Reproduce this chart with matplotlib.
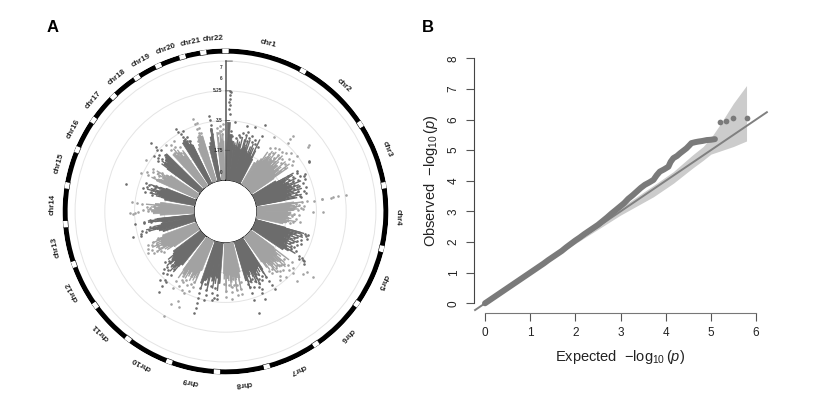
import matplotlib
matplotlib.use('Agg')
import matplotlib.pyplot as plt
import numpy as np

plt.rcParams['font.family'] = ['Liberation Sans', 'DejaVu Sans']
plt.rcParams['mathtext.fontset'] = 'custom'
plt.rcParams['mathtext.rm'] = 'Liberation Sans'
plt.rcParams['mathtext.it'] = 'Liberation Sans:italic'

# chromosome names and lengths (Mb)
chr_names = ['chr%d' % i for i in range(1, 23)]
chr_len = [249, 243, 198, 191, 181, 171, 159, 146, 141, 135, 135, 133,
           115, 107, 102, 90, 81, 78, 59, 63, 48, 51]

# dense part of each chromosome, top of the filled block along the chromosome
solid_tops = [
    [3.4, 2.7, 2.3, 2.1, 2.0, 2.2, 1.9, 2.0, 2.1, 1.9, 1.8, 1.9, 1.7, 1.6],
    [1.5, 1.7, 1.9, 1.8, 2.1, 2.0, 2.2, 1.9, 2.0, 2.2, 1.9, 2.1, 1.8, 1.6],
    [1.6, 1.8, 2.1, 1.9, 2.2, 2.0, 2.3, 2.0, 2.2, 1.9, 2.1, 1.8, 1.7],
    [2.2, 2.0, 1.9, 2.1, 1.8, 2.0, 1.9, 1.8, 1.9, 1.7, 1.8, 1.6],
    [1.8, 2.0, 2.3, 2.0, 2.2, 1.9, 2.1, 2.2, 2.0, 2.3, 2.5, 2.2],
    [1.7, 1.9, 2.1, 2.0, 1.9, 2.2, 2.0, 2.1, 1.9, 2.0, 1.8],
    [2.2, 1.9, 2.0, 2.1, 2.2, 2.0, 1.9, 2.1, 2.0, 2.4],
    [1.8, 2.0, 2.1, 1.9, 2.0, 2.2, 1.9, 2.1, 1.9, 1.8],
    [2.4, 2.1, 2.0, 2.3, 2.1, 2.0, 2.2, 2.4, 2.6],
    [1.9, 2.1, 2.3, 2.5, 2.2, 2.4, 2.2, 2.6, 2.4],
    [2.2, 2.4, 2.6, 2.4, 2.3, 2.4, 2.2, 2.1, 2.0],
    [1.8, 2.0, 2.1, 2.3, 2.4, 2.2, 2.3, 2.4, 2.1],
    [2.0, 2.2, 2.3, 2.1, 2.0, 1.9, 2.0, 2.2],
    [2.0, 2.4, 2.5, 2.2, 2.1, 2.0, 2.3, 2.0],
    [1.8, 2.0, 2.2, 2.3, 2.1, 2.0, 1.9],
    [2.6, 2.4, 2.2, 2.3, 2.1, 2.2, 2.0],
    [2.4, 2.7, 2.6, 2.8, 2.9, 3.0],
    [2.7, 2.5, 2.3, 2.5, 2.2, 2.4],
    [2.9, 3.0, 2.8, 2.6, 2.5],
    [2.2, 2.4, 2.7, 2.9, 2.8],
    [2.1, 2.3, 2.6, 3.1],
    [2.0, 2.2, 2.4, 2.3],
]

# single dots: chromosome index, position along it (0-1), -log10(p)
hit_chr = (
    [1] * 28 + [2] * 28 + [3] * 25 + [4] * 26 + [5] * 23 + [6] * 24 + [7] * 22
    + [8] * 14 + [9] * 17 + [10] * 18 + [11] * 15 + [12] * 14 + [13] * 13
    + [14] * 13 + [15] * 11 + [16] * 10 + [17] * 11 + [18] * 9 + [19] * 9
    + [20] * 9 + [21] * 6 + [22] * 7
)
hit_pos = [
    .03, .06, .03, .04, .03, .04, .03, .05, .19, .48, .69, .88, .92, .44, .32, .67, .1, .15, .25, .38, .52, .58, .62, .75, .8, .85, .95, .55,
    .11, .2, .25, .3, .35, .4, .28, .45, .5, .45, .45, .47, .52, .58, .6, .65, .7, .72, .78, .82, .85, .9, .93, .96, .83, .85, .55, .38,
    .02, .04, .1, .15, .2, .25, .3, .35, .4, .3, .34, .5, .55, .6, .65, .7, .75, .8, .85, .9, .95, .98, .1, .45, .62,
    .02, .02, .03, .03, .04, .04, .05, .05, .06, .42, .42, .1, .15, .2, .25, .3, .35, .5, .55, .6, .7, .8, .85, .92, .2, .3,
    .05, .05, .1, .15, .2, .25, .3, .35, .4, .45, .5, .55, .6, .65, .7, .75, .8, .85, .88, .9, .93, .95, .98,
    .02, .01, .42, .13, .2, .25, .3, .35, .4, .45, .5, .55, .6, .65, .7, .75, .8, .85, .9, .95, .15, .05, .32, .58,
    .02, .04, .06, .08, .5, .52, .55, .48, .45, .9, .9, .88, .2, .3, .35, .4, .6, .7, .75, .8, .875, .95,
    .15, .15, .35, .35, .6, .6, .85, .85, .3, .45, .1, .55, .7, .95,
    .85, .85, .87, .88, .9, .92, .1, .1, .2, .3, .35, .6, .62, .65, .45, .25, .75,
    .6, .6, .28, .45, .1, .2, .25, .35, .4, .5, .55, .65, .7, .8, .9, .95, .15, .75,
    .05, .1, .15, .2, .3, .35, .4, .5, .55, .6, .7, .8, .25, .45, .15,
    .3, .45, .35, .5, .6, .7, .2, .4, .55, .65, .8, .85, .1, .9,
    .2, .25, .15, .3, .35, .4, .5, .45, .85, .9, .95, .82, .8,
    .2, .22, .25, .15, .4, .35, .5, .6, .7, .55, .8, .75, .78,
    .45, .2, .3, .4, .5, .55, .6, .7, .8, .9, .85,
    .05, .1, .2, .3, .4, .5, .6, .7, .8, .95,
    .1, .2, .3, .4, .5, .6, .75, .8, .9, .7, .85,
    .1, .2, .3, .4, .5, .6, .7, .85, .95,
    .2, .25, .35, .45, .5, .6, .7, .8, .9,
    .6, .65, .7, .8, .85, .9, .75, .5, .3,
    .9, .9, .88, .85, .8, .7,
    .1, .2, .5, .6, .7, .9, .85,
]
hit_val = [
    5.25, 5.2, 5.0, 4.8, 4.6, 4.4, 4.2, 3.9, 3.44, 3.36, 3.4, 3.75, 3.1, 2.9, 2.7, 2.87, 2.9, 2.6, 2.5, 2.6, 2.8, 2.5, 2.7, 2.5, 2.7, 2.5, 2.4, 3.0,
    3.4, 2.7, 2.4, 2.9, 2.6, 3.0, 2.2, 2.4, 2.7, 4.1, 3.86, 3.6, 3.0, 2.6, 3.1, 2.7, 3.3, 2.5, 3.0, 2.6, 3.5, 3.1, 2.5, 2.9, 4.4, 4.3, 2.2, 2.2,
    3.9, 3.85, 2.4, 2.9, 2.6, 2.3, 3.0, 2.5, 2.8, 3.3, 3.25, 2.5, 3.0, 2.7, 2.4, 3.1, 2.6, 2.9, 2.4, 3.0, 2.6, 2.7, 3.0, 3.2, 2.6,
    5.3, 4.85, 4.5, 4.4, 3.9, 3.85, 3.4, 3.0, 2.7, 3.3, 3.9, 2.3, 2.5, 2.2, 2.6, 2.1, 2.4, 2.2, 2.5, 2.1, 2.3, 2.6, 2.2, 2.0, 2.8, 2.7,
    3.2, 3.0, 3.1, 2.8, 3.2, 2.6, 2.9, 2.5, 2.7, 3.0, 2.5, 2.8, 2.4, 2.7, 2.5, 2.9, 2.6, 3.2, 3.4, 3.5, 3.6, 3.3, 3.7,
    4.55, 4.1, 4.0, 4.0, 3.3, 3.0, 2.8, 3.2, 2.7, 2.6, 3.0, 2.5, 2.9, 2.6, 2.8, 3.1, 2.5, 3.3, 2.7, 2.5, 2.6, 3.1, 3.5, 3.4,
    3.6, 3.3, 3.0, 2.7, 3.8, 3.4, 3.0, 2.8, 3.2, 3.6, 3.2, 2.8, 2.5, 2.7, 2.3, 2.6, 2.6, 2.4, 2.9, 2.5, 4.45, 2.6,
    3.1, 2.8, 3.1, 2.8, 3.3, 2.9, 3.2, 2.8, 2.5, 2.5, 2.4, 2.6, 2.5, 2.4,
    4.4, 4.1, 3.8, 3.5, 3.2, 2.9, 3.1, 3.3, 3.3, 3.4, 3.0, 3.2, 3.5, 2.9, 2.6, 2.7, 2.6,
    5.25, 4.45, 4.4, 4.1, 3.0, 3.3, 2.9, 3.5, 3.0, 3.4, 2.8, 3.0, 3.3, 2.7, 3.6, 3.2, 2.7, 2.9,
    4.3, 3.6, 3.9, 3.5, 3.2, 3.7, 3.0, 3.3, 2.9, 3.1, 2.6, 2.8, 2.7, 2.6, 3.1,
    3.0, 3.3, 2.8, 3.0, 3.2, 2.9, 2.6, 2.6, 2.6, 2.6, 3.1, 2.8, 2.5, 2.4,
    3.8, 3.3, 3.3, 3.0, 2.8, 3.2, 2.7, 2.5, 3.5, 3.0, 2.6, 3.0, 2.6,
    3.75, 3.5, 3.3, 3.6, 3.0, 2.7, 2.6, 2.8, 2.4, 2.3, 3.65, 3.1, 3.4,
    4.2, 2.6, 3.0, 2.7, 3.2, 2.6, 3.0, 2.5, 2.9, 2.5, 3.1,
    3.6, 3.2, 2.8, 3.3, 2.6, 3.0, 2.7, 3.1, 2.5, 3.7,
    3.1, 3.5, 3.2, 3.0, 3.3, 2.8, 4.1, 3.7, 3.4, 3.6, 3.0,
    3.4, 3.0, 2.7, 3.2, 2.6, 3.0, 2.5, 3.3, 2.8,
    3.8, 3.6, 3.4, 3.2, 3.0, 2.9, 3.5, 3.1, 2.8,
    3.95, 3.6, 3.3, 3.6, 3.3, 3.0, 3.0, 2.8, 2.6,
    3.85, 3.6, 3.3, 3.0, 2.8, 2.6,
    3.1, 2.8, 3.2, 2.9, 2.7, 3.3, 3.0,
]

circle_ticks = [1.75, 3.5, 5.25, 7]
axis_labels = ['0', '1.75', '3.5', '5.25', '6', '7']
axis_label_at = [0.45, 1.75, 3.5, 5.25, 6.0, 6.6]

# QQ plot
qq_exp = [0, .1, .2, .3, .4, .5, .6, .7, .8, .9, 1.0, 1.1, 1.2, 1.3, 1.4, 1.5, 1.6, 1.7,
          1.8, 1.9, 2.0, 2.1, 2.2, 2.3, 2.4, 2.5, 2.6, 2.7, 2.8, 2.9, 2.99, 3.08, 3.17,
          3.27, 3.36, 3.45, 3.54, 3.64, 3.73, 3.8, 3.87, 3.96, 4.06, 4.11, 4.17, 4.25,
          4.32, 4.39, 4.46, 4.52, 4.57, 4.65, 4.72, 4.81, 4.91, 5.0, 5.09, 5.20, 5.33,
          5.50, 5.79]
qq_obs = [0, .1, .2, .3, .4, .5, .6, .7, .8, .9, 1.0, 1.1, 1.2, 1.3, 1.41, 1.51, 1.61, 1.71,
          1.83, 1.94, 2.05, 2.15, 2.26, 2.36, 2.46, 2.56, 2.68, 2.8, 2.93, 3.05, 3.16, 3.27,
          3.41, 3.53, 3.65, 3.77, 3.87, 3.95, 4.03, 4.18, 4.30, 4.37, 4.46, 4.62, 4.74, 4.81,
          4.90, 4.98, 5.06, 5.15, 5.23, 5.26, 5.28, 5.30, 5.33, 5.34, 5.36, 5.93, 5.96,
          6.05, 6.05]
band_x = [0, 1, 2, 3, 3.73, 4.17, 4.6, 4.83, 5.0, 5.2, 5.5, 5.79]
band_lo = [0, .98, 1.95, 2.88, 3.48, 3.92, 4.42, 4.67, 4.87, 4.97, 5.12, 5.30]
band_hi = [0, 1.02, 2.05, 3.12, 3.85, 4.30, 4.85, 5.12, 5.40, 5.83, 6.53, 7.11]

dark = '#6c6c6c'
light = '#a2a2a2'
gap = 2.5
W, H = 827, 394

fig = plt.figure(figsize=(W / 100, H / 100), dpi=100)

# panel A
ax = fig.add_axes([62.5 / W, (H - 211.5 - 163) / H, 326 / W, 326 / H], projection='polar')
ax.set_theta_zero_location('N')
ax.set_theta_direction(-1)
ax.set_rorigin(-1.85)
ax.set_ylim(0, 7.74)
ax.set_xticks([])
ax.set_yticks(circle_ticks)
ax.set_yticklabels([])
ax.tick_params(length=0)
ax.yaxis.grid(True, color='#e4e4e4', lw=0.7)
ax.spines['polar'].set_visible(False)
ax.set_axisbelow(True)

usable = 360 - gap * len(chr_len)
scale = usable / sum(chr_len)
start = 1.25
hit_chr = np.array(hit_chr)
hit_pos = np.array(hit_pos)
hit_val = np.array(hit_val)
for i, name in enumerate(chr_names):
    width = chr_len[i] * scale
    col = dark if i % 2 == 0 else light
    tops = solid_tops[i]
    step = width / len(tops)
    th = np.radians(start + step * (np.arange(len(tops)) + 0.5))
    ax.bar(th, tops, width=np.radians(step), color=col, edgecolor=col, lw=0.5, zorder=3)
    m = hit_chr == i + 1
    hit_th = np.radians(start + hit_pos[m] * width)
    ax.scatter(hit_th, hit_val[m], s=3.5, color=col, lw=0, zorder=3)
    # lower hits sit on thin spikes rising out of the block
    low = hit_val[m] <= 3.2
    ax.vlines(hit_th[low], 0, hit_val[m][low] - 0.25, color=col, lw=1.0, zorder=3)
    # outer ring
    ax.bar(np.radians(start + width / 2), 0.3, bottom=7.44, width=np.radians(width + 0.2),
           color='black', lw=0, zorder=4)
    ax.bar(np.radians(start + width + gap / 2), 0.3, bottom=7.44, width=np.radians(gap),
           facecolor='white', edgecolor='black', lw=0.4, zorder=4)
    mid = start + width / 2
    ax.text(np.radians(mid), 8.32, name, rotation=-mid, rotation_mode='anchor', ha='center',
            va='center', fontsize=5.7, fontweight='bold', color='#222222', clip_on=False)
    start += width + gap

# radial axis at the top
ax.plot([0, 0], [0, 7], color='#555555', lw=1.1, zorder=5)
for lab, v in zip(axis_labels, axis_label_at):
    ax.annotate(lab, (0, v), xytext=(-2, 0), textcoords='offset points', ha='right', va='center',
                fontsize=3.4, fontweight='bold', color='#333333')
for v, dx in zip([7, 5.25, 3.5, 1.75], [5, 3, 3, 3]):
    ax.annotate('', (0, v), xytext=(dx, 0), textcoords='offset points',
                arrowprops=dict(arrowstyle='-', color='#555555', lw=0.6, shrinkA=0, shrinkB=0))

fig.text(53 / W, 1 - 27 / H, 'A', fontsize=12, fontweight='bold', ha='center', va='center')
fig.text(428 / W, 1 - 27 / H, 'B', fontsize=12, fontweight='bold', ha='center', va='center')

# panel B
left, right, top, bottom = 474.3, 767.0, 58.3, 312.7
bx = fig.add_axes([left / W, 1 - bottom / H, (right - left) / W, (bottom - top) / H])
bx.set_xlim(-0.237, 6.243)
bx.set_ylim(-0.307, 8.0)
for s in ['top', 'right']:
    bx.spines[s].set_visible(False)
bx.spines['left'].set_bounds(0, 8)
bx.spines['bottom'].set_bounds(0, 6)
bx.spines['left'].set_color('#444444')
bx.spines['bottom'].set_color('#777777')
bx.set_xticks(range(7))
bx.set_yticks(range(9))
bx.tick_params(axis='x', length=5.5, width=0.8, color='#555555', labelsize=8.5, pad=5, labelcolor='#222222')
bx.tick_params(axis='y', length=5.5, width=0.8, color='#555555', labelsize=8.5, pad=5, labelcolor='#222222')
plt.setp(bx.get_yticklabels(), rotation=90, va='center')
bx.fill_between(band_x, band_lo, band_hi, color='#cccccc', lw=0, zorder=1)
bx.plot([-0.22, 6.24], [-0.22, 6.24], color='#808080', lw=1.4, zorder=2, clip_on=False)
# the points overlap into a thick line up to the last four
bx.plot(qq_exp[:-4], qq_obs[:-4], color='#7a7a7a', lw=4.3, solid_capstyle='round', zorder=3, clip_on=False)
bx.scatter(qq_exp[-4:], qq_obs[-4:], s=17, color='#7a7a7a', lw=0, zorder=3, clip_on=False)
fig.text(620 / W, 1 - 357 / H, r'Expected  $-\log_{10}(p)$', fontsize=10.5, ha='center', va='center', color='#222222')
fig.text(431 / W, 1 - 180.5 / H, r'Observed  $-\log_{10}(p)$', fontsize=10.5, rotation=90, ha='center', va='center', color='#222222')

fig.savefig('out.png', dpi=100)
